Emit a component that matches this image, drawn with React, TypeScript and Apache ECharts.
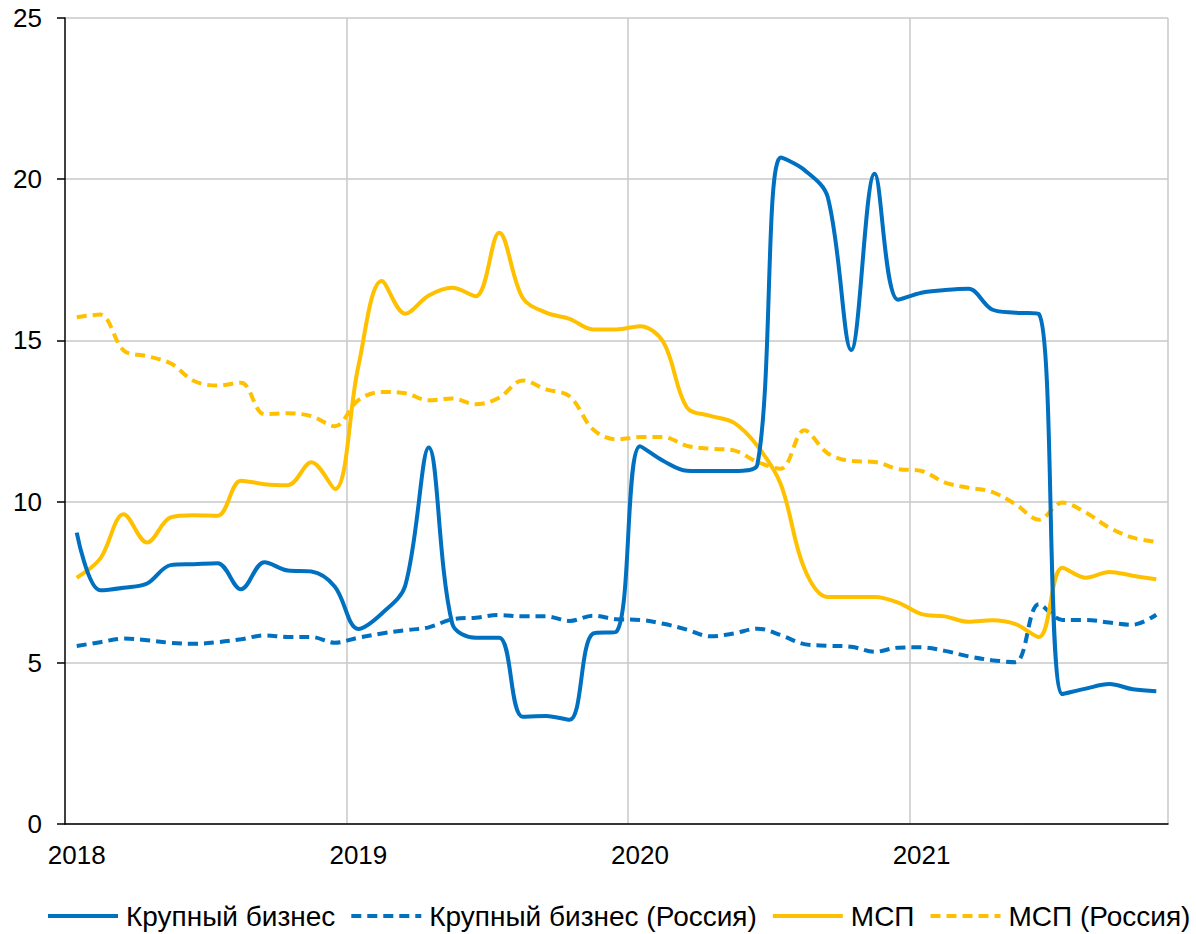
import React, { useEffect, useRef } from "react";
import * as echarts from "echarts";

const years = ["2018", "2019", "2020", "2021"];
const monthNums = ["01", "02", "03", "04", "05", "06", "07", "08", "09", "10", "11", "12"];
// Jan 2018 – Nov 2021 (47 months)
const categories: string[] = years
  .flatMap((y) => monthNums.map((m) => `${y}-${m}`))
  .slice(0, 47);

const seriesNames = ["Крупный бизнес", "Крупный бизнес (Россия)", "МСП", "МСП (Россия)"];

const bigBiz = [9.04, 7.25, 7.33, 7.46, 8.03, 8.06, 8.09, 7.28, 8.12, 7.86, 7.83, 7.36,
  6.05, 6.53, 7.4, 11.68, 6.22, 5.78, 5.78, 3.33, 3.35, 3.23, 5.91, 5.97,
  11.72, 11.26, 10.96, 10.95, 10.95, 11.14, 20.67, 20.29, 19.45, 14.7, 20.17, 16.26,
  16.48, 16.56, 16.6, 15.96, 15.86, 15.82, 4.03, 4.2, 4.34, 4.18, 4.12];

const bigBizRu = [5.52, 5.64, 5.75, 5.7, 5.62, 5.59, 5.64, 5.73, 5.85, 5.8, 5.8, 5.62,
  5.78, 5.91, 6.01, 6.1, 6.35, 6.4, 6.48, 6.44, 6.44, 6.3, 6.46, 6.35,
  6.33, 6.21, 6.03, 5.82, 5.91, 6.06, 5.86, 5.58, 5.53, 5.5, 5.34, 5.47,
  5.48, 5.37, 5.2, 5.08, 5.02, 6.82, 6.33, 6.33, 6.25, 6.18, 6.49];

const sme = [7.64, 8.23, 9.61, 8.73, 9.51, 9.58, 9.56, 10.65, 10.54, 10.51, 11.22, 10.39,
  14.2, 16.84, 15.83, 16.39, 16.63, 16.37, 18.34, 16.32, 15.86, 15.67, 15.34, 15.34,
  15.44, 14.94, 12.92, 12.66, 12.45, 11.73, 10.54, 7.93, 7.04, 7.04, 7.04, 6.87,
  6.51, 6.44, 6.27, 6.32, 6.2, 5.8, 7.95, 7.64, 7.82, 7.7, 7.59];

const smeRu = [15.72, 15.8, 14.69, 14.51, 14.29, 13.74, 13.6, 13.69, 12.71, 12.74, 12.65, 12.34,
  13.15, 13.4, 13.36, 13.14, 13.2, 13.02, 13.22, 13.76, 13.48, 13.27, 12.24, 11.93,
  12.0, 12.0, 11.73, 11.64, 11.59, 11.23, 11.02, 12.21, 11.5, 11.26, 11.23, 11.01,
  10.95, 10.59, 10.43, 10.3, 9.92, 9.44, 9.97, 9.66, 9.19, 8.88, 8.75];

const BLUE = "#0070C0";
const YELLOW = "#FFC000";
const FONT = "'Liberation Sans', Arial, sans-serif";

export default function App() {
  const ref = useRef<HTMLDivElement>(null);

  useEffect(() => {
    document.body.style.margin = "0";
    if (!ref.current) return;
    const chart = echarts.init(ref.current, null, { renderer: "svg" });
    const dash = [10, 6];
    const mk = (name: string, data: number[], color: string, dashed: boolean, z: number) => ({
      name,
      type: "line",
      data,
      smooth: 0.35,
      symbol: "none",
      z,
      lineStyle: { color, width: 4, type: dashed ? dash : "solid" },
      itemStyle: { color },
    });
    chart.setOption({
      animation: false,
      backgroundColor: "#ffffff",
      textStyle: { fontFamily: FONT },
      grid: { left: 65, right: 28, top: 18, bottom: 110 },
      legend: {
        orient: "horizontal",
        bottom: 4,
        left: 46,
        width: 1500,
        padding: 0,
        itemWidth: 70,
        itemHeight: 14,
        itemGap: 14,
        itemStyle: { opacity: 0 },
        lineStyle: { width: 4 },
        textStyle: { fontSize: 28, color: "#000", fontFamily: FONT, padding: [0, 0, 0, 3] },
        data: seriesNames,
      },
      xAxis: {
        type: "category",
        data: categories,
        boundaryGap: true,
        axisLine: { show: true, lineStyle: { color: "#000", width: 1.5 } },
        axisTick: { show: false },
        axisLabel: {
          interval: (i: number) => i % 12 === 0,
          formatter: (v: string) => v.slice(0, 4),
          fontSize: 26,
          color: "#000",
          margin: 18,
          fontFamily: FONT,
        },
        splitLine: {
          show: true,
          interval: (i: number) => i % 12 === 0 && i > 0,
          lineStyle: { color: "#c8c8c8", width: 1.5 },
        },
      },
      yAxis: {
        type: "value",
        min: 0,
        max: 25,
        interval: 5,
        axisLine: { show: true, lineStyle: { color: "#000", width: 1.5 } },
        axisTick: { show: true, length: 8, lineStyle: { color: "#000", width: 1.5 } },
        axisLabel: { fontSize: 26, color: "#000", margin: 23, fontFamily: FONT },
        splitLine: { show: true, lineStyle: { color: "#c8c8c8", width: 1.5 } },
      },
      series: [
        mk(seriesNames[0], bigBiz, BLUE, false, 5),
        mk(seriesNames[1], bigBizRu, BLUE, true, 3),
        mk(seriesNames[2], sme, YELLOW, false, 4),
        mk(seriesNames[3], smeRu, YELLOW, true, 2),
      ],
    });
    return () => chart.dispose();
  }, []);

  return <div ref={ref} style={{ width: 1196, height: 934 }} />;
}
